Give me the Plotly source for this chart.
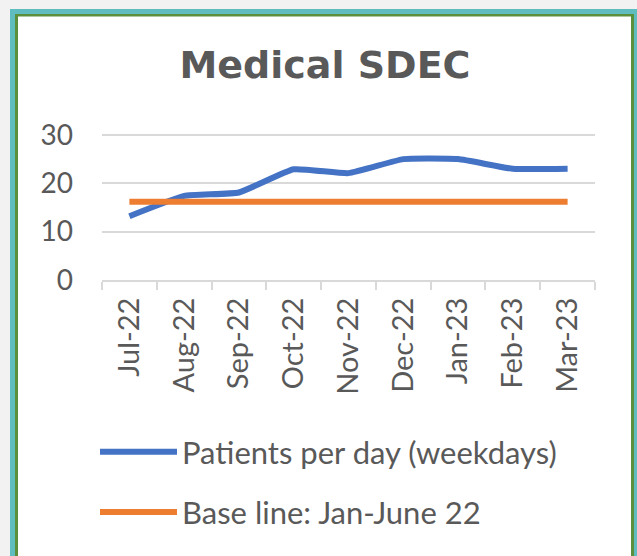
import plotly.graph_objects as go

months = ["Jul-22", "Aug-22", "Sep-22", "Oct-22", "Nov-22", "Dec-22", "Jan-23", "Feb-23", "Mar-23"]
patients = [13.2, 17.4, 18.1, 22.9, 22.1, 25.0, 25.0, 23.0, 23.0]
baseline = [16.2, 16.2, 16.2, 16.2, 16.2, 16.2, 16.2, 16.2, 16.2]
y_ticks = [0, 10, 20, 30]

W, H = 637, 556
L, R, T, B = 102, 42, 133, 276
PW, PH = W - L - R, H - T - B

def px(x):
    return (x - L) / PW

def py(y):
    return (H - B - y) / PH

grey_txt = "#595959"
grid = "#d9d9d9"

fig = go.Figure()
fig.add_trace(go.Scatter(x=months, y=patients, mode="lines", name="Patients per day (weekdays)",
                         line=dict(color="#4472c4", width=6, shape="spline", smoothing=0.4),
                         legendgroup="a"))
fig.add_trace(go.Scatter(x=months, y=baseline, mode="lines", name="Base line: Jan-June 22",
                         line=dict(color="#ed7d31", width=6), legendgroup="b"))

shapes = [
    dict(type="rect", xref="paper", yref="paper", x0=px(10), x1=px(645), y0=py(600), y1=py(9),
         fillcolor="#5fbcbf", line=dict(width=0), layer="below"),
    dict(type="rect", xref="paper", yref="paper", x0=px(15), x1=px(634), y0=py(600), y1=py(14),
         fillcolor="#5b8f3c", line=dict(width=0), layer="below"),
    dict(type="rect", xref="paper", yref="paper", x0=px(18), x1=px(631), y0=py(600), y1=py(16.5),
         fillcolor="#ffffff", line=dict(width=0), layer="below"),
]

fig.update_layout(
    width=W, height=H,
    margin=dict(l=L, r=R, t=T, b=B, autoexpand=False),
    paper_bgcolor="#f2f2f2",
    plot_bgcolor="rgba(0,0,0,0)",
    shapes=shapes,
    title=dict(text="<b>Medical SDEC</b>", x=325 / W, xanchor="center", y=1 - 65 / H, yanchor="middle",
               xref="container", yref="container",
               font=dict(family="DejaVu Sans", size=38, color=grey_txt)),
    showlegend=True,
    legend=dict(x=px(95), xanchor="left", y=py(425), yanchor="top",
                font=dict(family="Lato", size=31, color=grey_txt),
                tracegroupgap=17, itemwidth=77, bgcolor="rgba(0,0,0,0)"),
    xaxis=dict(showline=True, linecolor=grid, linewidth=2, ticks="outside", ticklen=8,
               tickcolor=grid, tickwidth=2, tickson="boundaries", tickangle=-90,
               tickfont=dict(family="Lato", size=29, color=grey_txt), showgrid=False,
               ticklabelstandoff=4, range=[-0.5, 8.5]),
    yaxis=dict(range=[0, 30.4], tickvals=y_ticks, showgrid=True, gridcolor=grid, gridwidth=2,
               zeroline=False, showline=False, ticklabelstandoff=28,
               tickfont=dict(family="Lato", size=28, color=grey_txt)),
)

fig.write_html("out.html", config={"displayModeBar": False},
               post_script="document.body.style.margin='0';")
